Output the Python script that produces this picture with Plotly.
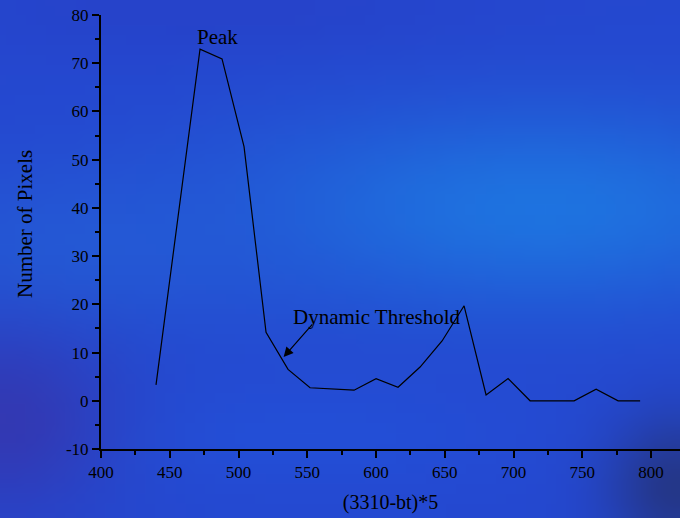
import base64, struct, zlib, math
import plotly.graph_objects as go

# ---- data ----
x_vals = [440, 472, 488, 504, 520, 536, 552, 584, 600, 616, 632, 648, 664,
          680, 696, 712, 728, 744, 760, 776, 792]
y_vals = [3.3, 72.9, 70.9, 52.7, 14.2, 6.5, 2.7, 2.2, 4.6, 2.8, 7.0, 12.4, 19.7,
          1.2, 4.6, 0, 0, 0, 2.4, 0, 0]
x_ticks = [400, 450, 500, 550, 600, 650, 700, 750, 800]
y_ticks = [-10, 0, 10, 20, 30, 40, 50, 60, 70, 80]
y_tick_text = ["-10", "0", "10", "20", "30", "40", "50", "60", "70", "80"]
x_title = "(3310-bt)*5"
y_title = "Number of Pixels"
peak_label = "Peak"
thresh_label = "Dynamic Threshold"

# ---- background gradient image (decoration) ----
W, H = 68, 52
def blend(c, t, w):
    return tuple(c[i] * (1 - w) + t[i] * w for i in range(3))
def g(u, v, cu, cv, su, sv):
    return math.exp(-(((u - cu) / su) ** 2 + ((v - cv) / sv) ** 2))
rows = b""
for j in range(H):
    v = j / (H - 1)
    row = b"\x00"
    for i in range(W):
        u = i / (W - 1)
        c = (37, 72, 208)
        c = blend(c, (30, 120, 226), 0.9 * g(u, v, 0.80, 0.40, 0.45, 0.20))
        c = blend(c, (36, 98, 216), 0.6 * g(u, v, 0.10, 0.48, 0.30, 0.17))
        c = blend(c, (34, 86, 222), 0.5 * g(u, v, 0.45, 0.85, 0.35, 0.12))
        c = blend(c, (56, 52, 170), 0.75 * g(u, v, 0.0, 0.82, 0.16, 0.18))
        c = blend(c, (36, 52, 125), 0.85 * g(u, v, 1.0, 0.95, 0.10, 0.14))
        c = blend(c, (40, 62, 196), 0.5 * g(u, v, 0.3, 0.0, 0.4, 0.1))
        row += bytes(int(max(0, min(255, k))) for k in c)
    rows += row
def chunk(t, d):
    return struct.pack(">I", len(d)) + t + d + struct.pack(">I", zlib.crc32(t + d) & 0xffffffff)
png = b"\x89PNG\r\n\x1a\n" + chunk(b"IHDR", struct.pack(">IIBBBBB", W, H, 8, 2, 0, 0, 0)) \
      + chunk(b"IDAT", zlib.compress(rows)) + chunk(b"IEND", b"")
img_uri = "data:image/png;base64," + base64.b64encode(png).decode()

font = "Liberation Serif, Times New Roman, serif"

fig = go.Figure()
fig.add_trace(go.Scatter(x=x_vals, y=y_vals, mode="lines",
                         line=dict(color="black", width=1.2), showlegend=False,
                         hoverinfo="x+y"))

fig.add_layout_image(dict(source=img_uri, xref="paper", yref="paper",
                          x=-101/579, y=1 + 15/434, sizex=680/579, sizey=518/434,
                          xanchor="left", yanchor="top", sizing="stretch",
                          layer="below"))

fig.add_annotation(x=484.9, y=75.4, text=peak_label, showarrow=False,
                   font=dict(family=font, size=21, color="black"))
fig.add_annotation(x=600.3, y=17.4, text=thresh_label, showarrow=False,
                   font=dict(family=font, size=21, color="black"))
fig.add_annotation(x=532.8, y=9.1, ax=30, ay=-34, text="", showarrow=True,
                   arrowhead=2, arrowsize=1.6, arrowwidth=1.2, arrowcolor="black")
# y-axis title placed as rotated annotation
fig.add_annotation(xref="paper", yref="paper", x=-76/579, y=(449 - 224) / 434,
                   xanchor="center", yanchor="middle",
                   text=y_title, textangle=-90, showarrow=False,
                   font=dict(family=font, size=21, color="black"))

fig.update_layout(
    width=680, height=518,
    margin=dict(l=101, r=0, t=15, b=69),
    paper_bgcolor="#2548cc", plot_bgcolor="rgba(0,0,0,0)",
    font=dict(family=font, size=17, color="black"),
    xaxis=dict(range=[400, 821], tickvals=x_ticks,
               showgrid=False, zeroline=False, showline=True, linecolor="black",
               linewidth=2, ticks="outside", ticklen=7, tickwidth=2, tickcolor="black",
               minor=dict(dtick=25, tick0=400, ticks="outside", ticklen=4, tickwidth=2,
                          tickcolor="black"),
               title=dict(text=x_title, font=dict(size=20), standoff=14),
               tickfont=dict(size=17)),
    yaxis=dict(range=[-10, 80], tickvals=y_ticks, ticktext=y_tick_text,
               showgrid=False, zeroline=False, showline=True, linecolor="black",
               linewidth=2, ticks="outside", ticklen=7, tickwidth=2, tickcolor="black",
               minor=dict(dtick=5, tick0=0, ticks="outside", ticklen=4, tickwidth=2,
                          tickcolor="black"),
               tickfont=dict(size=17)),
)

fig.write_html("out.html", config={"displayModeBar": False},
               post_script="document.body.style.margin='0';document.body.style.overflow='hidden';")
